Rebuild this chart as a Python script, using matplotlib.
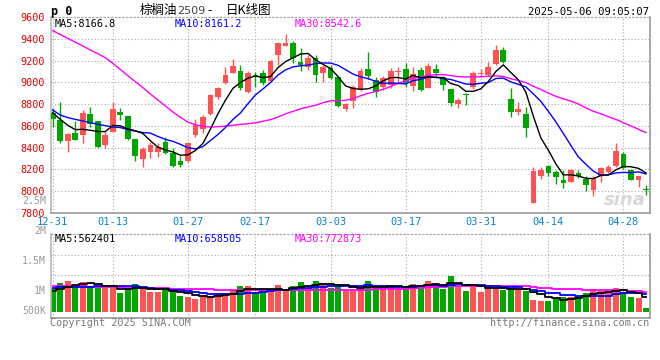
import matplotlib
matplotlib.use("Agg")
import matplotlib.pyplot as plt
import numpy as np
import pandas as pd

# ---------------- data ----------------
tick_labels = ["12-31", "01-13", "01-27", "02-17", "03-03", "03-17", "03-31", "04-14", "04-28"]
tick_idx = [0, 8, 18, 27, 37, 47, 57, 66, 76]

opens = [8716, 8654, 8458, 8537, 8519, 8709, 8648, 8427, 8547, 8728,
         8691, 8482, 8292, 8362, 8362, 8455, 8347, 8276, 8280, 8516,
         8568, 8709, 8869, 8992, 9090, 9105, 8915, 9069, 9090, 9016,
         9250, 9336, 9360, 9188, 9145, 9225, 9084, 9130, 9047, 8752,
         8832, 8930, 9124, 9022, 8955, 8976, 9099, 9120, 8967, 9115,
         8952, 9120, 9053, 8937, 8801, 8890, 8955, 9078, 9069, 9167,
         9299, 8844, 8731, 8709, 7887, 8141, 8233, 8178, 8101, 8086,
         8169, 8107, 8009, 8141, 8178, 8230, 8341, 8193, 8101, 8011]
highs = [8762, 8823, 8531, 8648, 8746, 8771, 8648, 8544, 8823, 8762,
         8691, 8482, 8408, 8455, 8445, 8501, 8393, 8322, 8445, 8660,
         8700, 8890, 8960, 9140, 9216, 9161, 9108, 9100, 9115, 9210,
         9370, 9446, 9382, 9314, 9250, 9250, 9160, 9160, 9050, 8810,
         8980, 9130, 9280, 9050, 9060, 9130, 9140, 9180, 9140, 9140,
         9180, 9170, 9060, 8940, 8860, 8906, 9108, 9120, 9185, 9345,
         9330, 8946, 8820, 8770, 8225, 8220, 8240, 8190, 8190, 8200,
         8193, 8135, 8135, 8220, 8240, 8440, 8360, 8200, 8140, 8055]
lows = [8593, 8445, 8362, 8470, 8445, 8593, 8393, 8396, 8547, 8654,
        8470, 8280, 8224, 8301, 8316, 8341, 8218, 8224, 8270, 8500,
        8531, 8700, 8850, 8990, 9085, 8930, 8900, 8961, 8976, 9000,
        9160, 9336, 9176, 9108, 9115, 9006, 9006, 9030, 8770, 8740,
        8760, 8925, 9030, 8868, 8930, 8950, 8992, 8955, 8920, 8920,
        8946, 9060, 8930, 8785, 8765, 8792, 8940, 9047, 9060, 9160,
        9180, 8683, 8700, 8500, 7887, 8107, 8141, 8060, 8030, 8080,
        8117, 8000, 7955, 8080, 8170, 8225, 8200, 8100, 8040, 7963]
closes = [8660, 8464, 8525, 8470, 8722, 8617, 8408, 8516, 8758, 8703,
          8476, 8322, 8390, 8424, 8408, 8347, 8230, 8240, 8439, 8608,
          8679, 8884, 8946, 9069, 9152, 8946, 9084, 9047, 8992, 9200,
          9360, 9360, 9225, 9164, 9225, 9072, 9145, 9038, 8783, 8801,
          8955, 9108, 9059, 8915, 9038, 9105, 9108, 8992, 9078, 8930,
          9152, 9084, 8976, 8808, 8838, 8885, 9084, 9090, 9145, 9299,
          9191, 8731, 8755, 8577, 8187, 8193, 8163, 8126, 8071, 8193,
          8138, 8055, 8117, 8209, 8224, 8372, 8209, 8101, 8138, 8009]
volumes = [905000, 1123000, 1201000, 995000, 1151000, 995000, 967000, 905000, 905000, 710000,
           928000, 1084000, 866000, 772000, 772000, 839000, 772000, 616000, 577000, 499000,
           554000, 605000, 733000, 733000, 839000, 1006000, 1006000, 733000, 839000, 772000,
           1045000, 839000, 995000, 1151000, 928000, 1201000, 1123000, 928000, 1034000, 800000,
           800000, 995000, 1190000, 905000, 928000, 1034000, 928000, 995000, 1073000, 1034000,
           1190000, 1073000, 878000, 1396000, 967000, 800000, 1073000, 761000, 967000, 928000,
           839000, 905000, 839000, 811000, 449000, 410000, 410000, 476000, 554000, 577000,
           605000, 733000, 866000, 811000, 772000, 905000, 772000, 554000, 515000, 125000]

# moving-average values at the start of the window
ma5_head = [8720, 8660, 8605, 8565]
ma10_head = [8746, 8700, 8676, 8660, 8645, 8630, 8614, 8602, 8590]
ma30_head = [9477, 9442, 9406, 9371, 9336, 9299, 9265, 9228, 9176, 9121,
             9062, 9007, 8952, 8894, 8838, 8783, 8728, 8679, 8635, 8610,
             8595, 8590, 8592, 8598, 8605, 8613, 8620, 8628, 8642]
vma5_head = [800000, 880000, 960000, 1030000]
vma10_head = [930000, 940000, 950000, 960000, 970000, 975000, 980000, 985000, 985000]
vma30_head = [1000000, 995000, 990000, 985000, 980000, 975000, 970000, 965000, 950000, 940000,
              935000, 930000, 925000, 920000, 915000, 900000, 890000, 885000, 880000, 875000,
              865000, 860000, 855000, 852000, 850000, 848000, 846000, 845000, 845000]

ma_texts = ["MA5:8166.8", "MA10:8161.2", "MA30:8542.6"]
vma_texts = ["MA5:562401", "MA10:658505", "MA30:772873"]
vol_labels = ["2.5M", "2M", "1.5M", "1M", "500K"]

# ---------------- helpers ----------------
def moving_avg(values, n, head):
    s = pd.Series(values, dtype=float).rolling(n).mean().to_numpy()
    s[:len(head)] = head
    return s

W, H = 660, 360
def rect(l, t, r, b):
    return [l / W, 1 - b / H, (r - l) / W, (b - t) / H]

RED = "#ff5252"
GREEN = "#00a600"
GRID = "#a8a8a8"
BORDER = "#9a9a9a"
MONO = "DejaVu Sans Mono"
DOT = (0, (1, 2))

o = np.array(opens, float); c = np.array(closes, float)
h = np.array(highs, float); l = np.array(lows, float)
v = np.array(volumes, float)
x = np.arange(len(c))
up = c >= o
cols = np.where(up, RED, GREEN)

fig = plt.figure(figsize=(6.6, 3.6), dpi=100)
ax = fig.add_axes(rect(50.7, 17.3, 650, 213.3))
axv = fig.add_axes(rect(50.7, 234.3, 650, 318))

xlim = (-0.27, 79.53)

# ---------------- price panel ----------------
ax.set_xlim(*xlim)
ax.set_ylim(7794.5, 9600)
for t in tick_idx:
    ax.axvline(t, color=GRID, lw=0.8, linestyle=DOT, zorder=0)
for yv in range(8000, 9600, 200):
    ax.axhline(yv, color=GRID, lw=0.8, linestyle=DOT, zorder=0)

ax.text(0.958, 0.07, "sina", transform=ax.transAxes, fontsize=13, fontweight="bold",
        fontstyle="italic", color="#d8d8d8", ha="center", va="center", zorder=0.5)

ax.vlines(x, l, h, colors=cols, lw=1.0, zorder=2)
body_bottom = np.minimum(o, c)
body_h = np.maximum(np.abs(c - o), 9)
ax.bar(x, body_h, bottom=body_bottom, width=0.76, color=cols, linewidth=0, zorder=3)

ma5 = moving_avg(closes, 5, ma5_head)
ma10 = moving_avg(closes, 10, ma10_head)
ma30 = moving_avg(closes, 30, ma30_head)
ax.plot(x, ma30, color="#ff00ff", lw=1.0, zorder=4)
ax.plot(x, ma10, color="#0000ff", lw=1.0, zorder=4)
ax.plot(x, ma5, color="black", lw=1.0, zorder=5)

ax.set_yticks(list(range(7800, 9601, 200)))
ax.set_yticklabels([str(t) for t in range(7800, 9601, 200)], fontfamily=MONO,
                   fontsize=7.3, color="#e60000")
ax.set_xticks(tick_idx)
ax.set_xticklabels(tick_labels, fontfamily=MONO, fontsize=7.5, color="#0a82d0")
ax.tick_params(axis="both", length=0)
ax.tick_params(axis="y", pad=4)
ax.tick_params(axis="x", pad=2.5)

for side in ["left", "bottom", "right"]:
    ax.spines[side].set_color(BORDER)
    ax.spines[side].set_linewidth(1.2)
ax.spines["left"].set_color("#b8b8b8")
ax.spines["top"].set_color(GRID)
ax.spines["top"].set_linestyle(DOT)
ax.spines["top"].set_linewidth(0.9)

# ---------------- volume panel ----------------
axv.set_xlim(*xlim)
axv.set_ylim(-253500, 3010800)
for t in tick_idx:
    axv.axvline(t, color=GRID, lw=0.8, linestyle=DOT, zorder=0)
for yv in [2190000, 1420000]:
    axv.axhline(yv, color=GRID, lw=0.8, linestyle=DOT, zorder=0)
axv.bar(x, v, width=0.8, color=cols, linewidth=0, zorder=2)

vma5 = moving_avg(volumes, 5, vma5_head)
vma10 = moving_avg(volumes, 10, vma10_head)
vma30 = moving_avg(volumes, 30, vma30_head)
axv.plot(x, vma30, color="#ff00ff", lw=1.3, drawstyle="steps-mid", zorder=3)
axv.plot(x, vma10, color="#0000ff", lw=1.3, drawstyle="steps-mid", zorder=3)
axv.plot(x, vma5, color="black", lw=1.3, drawstyle="steps-mid", zorder=4)

axv.set_xticks([]); axv.set_yticks([])
for side in ["left", "bottom", "right"]:
    axv.spines[side].set_color(BORDER)
    axv.spines[side].set_linewidth(1.2)
axv.spines["left"].set_color("#b8b8b8")
axv.spines["top"].set_color(GRID)
axv.spines["top"].set_linestyle(DOT)
axv.spines["top"].set_linewidth(0.9)

# volume axis labels (placed where the source draws them)
for lab, ypx in zip(vol_labels, [200.7, 231.2, 260.7, 290.7, 310.7]):
    fig.text(46 / W, 1 - ypx / H, lab, ha="right", va="center", fontfamily=MONO,
             fontsize=7.1, color="#9a9a9a")

# ---------------- header / legend texts ----------------
for txt, xp, colr in zip(ma_texts, [54.3, 174.3, 295], ["black", "#0000ff", "#ff00ff"]):
    fig.text(xp / W, 1 - 24 / H, txt, ha="left", va="center", fontfamily=MONO,
             fontsize=7.3, color=colr)
for txt, xp, colr in zip(vma_texts, [54.3, 174.3, 295], ["black", "#0000ff", "#ff00ff"]):
    fig.text(xp / W, 1 - 238.6 / H, txt, ha="left", va="center", fontfamily=MONO,
             fontsize=7.3, color=colr)

fig.text(51 / W, 1 - 11.5 / H, "p 0", ha="left", va="center", fontfamily=MONO,
         fontsize=8.5, fontweight="bold", color="black")
CJK = ["Noto Sans CJK SC", "DejaVu Sans"]
fig.text(140 / W, 1 - 10.5 / H, "棕榈油", ha="left", va="center", fontfamily=CJK,
         fontsize=9, color="black")
fig.text(177 / W, 1 - 11 / H, "2509", ha="left", va="center", fontfamily="DejaVu Sans",
         fontsize=8, color="#444444")
fig.text(210 / W, 1 - 10.5 / H, "-", ha="center", va="center", fontfamily="DejaVu Sans",
         fontsize=8.5, color="black")
fig.text(226 / W, 1 - 10.5 / H, "日K线图", ha="left", va="center", fontfamily=CJK,
         fontsize=9, color="black")
fig.text(649.5 / W, 1 - 11.7 / H, "2025-05-06 09:05:07", ha="right", va="center",
         fontfamily=MONO, fontsize=7.6, color="black")

fig.text(50 / W, 1 - 323.3 / H, "Copyright 2025 SINA.COM", ha="left", va="center",
         fontfamily=MONO, fontsize=7.3, color="#7a7a7a")
fig.text(649.5 / W, 1 - 323.3 / H, "http://finance.sina.com.cn", ha="right", va="center",
         fontfamily=MONO, fontsize=7.3, color="#7a7a7a")

fig.savefig("out.png", dpi=100, facecolor="white")
